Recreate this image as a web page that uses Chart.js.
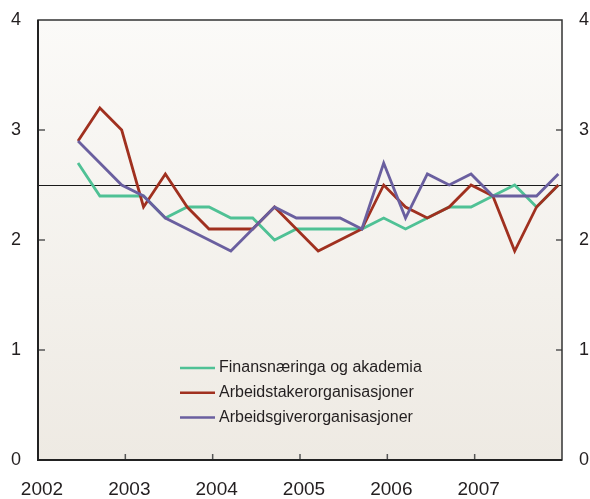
<!DOCTYPE html>
<html>
<head>
<meta charset="utf-8">
<script src="https://cdn.jsdelivr.net/npm/chart.js@4/dist/chart.umd.min.js"></script>
<style>
  html, body { margin: 0; padding: 0; background: #ffffff; }
  #c { display: block; }
</style>
</head>
<body>
<canvas id="c" width="590" height="499"></canvas>
<script>
// ---- Data ----
const quarters = [
  '2002K2','2002K3','2002K4',
  '2003K1','2003K2','2003K3','2003K4',
  '2004K1','2004K2','2004K3','2004K4',
  '2005K1','2005K2','2005K3','2005K4',
  '2006K1','2006K2','2006K3','2006K4',
  '2007K1','2007K2','2007K3','2007K4'
];
const finans = [2.7,2.4,2.4,2.4,2.2,2.3,2.3,2.2,2.2,2.0,2.1,2.1,2.1,2.1,2.2,2.1,2.2,2.3,2.3,2.4,2.5,2.3,2.5];
const arbeidstaker = [2.9,3.2,3.0,2.3,2.6,2.3,2.1,2.1,2.1,2.3,2.1,1.9,2.0,2.1,2.5,2.3,2.2,2.3,2.5,2.4,1.9,2.3,2.5];
const arbeidsgiver = [2.9,2.7,2.5,2.4,2.2,2.1,2.0,1.9,2.1,2.3,2.2,2.2,2.2,2.1,2.7,2.2,2.6,2.5,2.6,2.4,2.4,2.4,2.6];
const seriesNames = ['Finansnæringa og akademia','Arbeidstakerorganisasjoner','Arbeidsgiverorganisasjoner'];
const seriesColors = ['#4fc195','#a0301f','#6a5f9f'];
const yearTicks = [2002,2003,2004,2005,2006,2007];
const yTicks = [0,1,2,3,4];
const referenceValue = 2.5;

// quarter -> decimal year (mid of the quarter's last month)
function qToX(q) {
  const y = parseInt(q.slice(0,4),10), k = parseInt(q.slice(5),10);
  return y + (3*k - 0.5)/12;
}
function toPoints(vals) { return vals.map((v,i) => ({x: qToX(quarters[i]), y: v})); }

const FONT = "'Liberation Sans', Arial, sans-serif";

const framePlugin = {
  id: 'frame',
  beforeDraw(chart) {
    const {ctx, chartArea: a} = chart;
    const g = ctx.createLinearGradient(0, a.top, 0, a.bottom);
    g.addColorStop(0, '#fbfaf8');
    g.addColorStop(1, '#eeeae3');
    ctx.save();
    ctx.fillStyle = g;
    ctx.fillRect(a.left, a.top, a.right - a.left, a.bottom - a.top);
    ctx.restore();
  },
  beforeDatasetsDraw(chart) {
    const {ctx, chartArea: a, scales} = chart;
    const y = Math.round(scales.y.getPixelForValue(referenceValue)) + 0.5;
    ctx.save();
    ctx.strokeStyle = '#1a1a1a';
    ctx.lineWidth = 1.2;
    ctx.beginPath();
    ctx.moveTo(a.left, y); ctx.lineTo(a.right, y);
    ctx.stroke();
    ctx.restore();
  },
  afterDraw(chart) {
    const {ctx, chartArea: a, scales} = chart;
    ctx.save();
    // tick marks
    ctx.strokeStyle = '#555555';
    ctx.lineWidth = 1.5;
    ctx.beginPath();
    yTicks.slice(1, -1).forEach(v => {
      const py = scales.y.getPixelForValue(v);
      ctx.moveTo(a.left, py); ctx.lineTo(a.left + 7, py);
      ctx.moveTo(a.right, py); ctx.lineTo(a.right - 6, py);
    });
    yearTicks.slice(1).forEach(v => {
      const px = scales.x.getPixelForValue(v);
      ctx.moveTo(px, a.bottom); ctx.lineTo(px, a.bottom - 6);
    });
    ctx.stroke();
    // frame
    ctx.strokeStyle = '#333333';
    ctx.lineWidth = 1.5;
    ctx.strokeRect(a.left, a.top, a.right - a.left, a.bottom - a.top);
    ctx.strokeStyle = '#222222';
    ctx.lineWidth = 2;
    ctx.beginPath();
    ctx.moveTo(a.left, a.top); ctx.lineTo(a.left, a.bottom); ctx.lineTo(a.right, a.bottom);
    ctx.stroke();
    // legend
    const lx = 180, ly = 368, step = 24.7;
    ctx.font = '16px ' + FONT;
    ctx.textBaseline = 'middle';
    ctx.textAlign = 'left';
    chart.data.datasets.forEach((ds, i) => {
      const yy = ly + i * step;
      ctx.strokeStyle = ds.borderColor;
      ctx.lineWidth = 2.5;
      ctx.beginPath();
      ctx.moveTo(lx, yy); ctx.lineTo(lx + 35, yy);
      ctx.stroke();
      ctx.fillStyle = '#231f20';
      ctx.fillText(ds.label, lx + 39, yy);
    });
    ctx.restore();
  }
};

const yScaleCommon = {
  min: 0, max: 4,
  grid: { display: false, drawTicks: false },
  border: { display: false },
  ticks: { stepSize: 1, padding: 17, color: '#231f20', font: { family: FONT, size: 18 } },
  afterBuildTicks(s) { s.ticks = yTicks.map(v => ({value: v})); }
};

new Chart(document.getElementById('c'), {
  type: 'line',
  data: {
    datasets: [finans, arbeidstaker, arbeidsgiver].map((vals, i) => ({
      label: seriesNames[i],
      data: toPoints(vals),
      borderColor: seriesColors[i],
      backgroundColor: seriesColors[i],
      borderWidth: 2.8,
      pointRadius: 0,
      tension: 0,
      fill: false,
      order: 2 - i
    }))
  },
  options: {
    responsive: false,
    animation: false,
    layout: { padding: { top: 20, left: 0, right: 0, bottom: 0 } },
    plugins: { legend: { display: false }, tooltip: { enabled: false } },
    scales: {
      x: {
        type: 'linear', position: 'bottom', min: 2002, max: 2008,
        grid: { display: false, drawTicks: false }, border: { display: false },
        afterBuildTicks(s) { s.ticks = yearTicks.map(v => ({value: v})); },
        ticks: {
          autoSkip: false, maxRotation: 0, padding: 18, labelOffset: 4,
          color: '#231f20', font: { family: FONT, size: 19 },
          callback: v => String(v)
        },
        afterFit(s) { s.height = 39; s.paddingLeft = 0; s.paddingRight = 0; }
      },
      y: Object.assign({}, yScaleCommon, { position: 'left', afterFit(s) { s.width = 38; s.paddingTop = 0; s.paddingBottom = 0; } }),
      y2: Object.assign({}, yScaleCommon, { position: 'right', afterFit(s) { s.width = 28; s.paddingTop = 0; s.paddingBottom = 0; } })
    }
  },
  plugins: [framePlugin]
});
</script>
</body>
</html>
